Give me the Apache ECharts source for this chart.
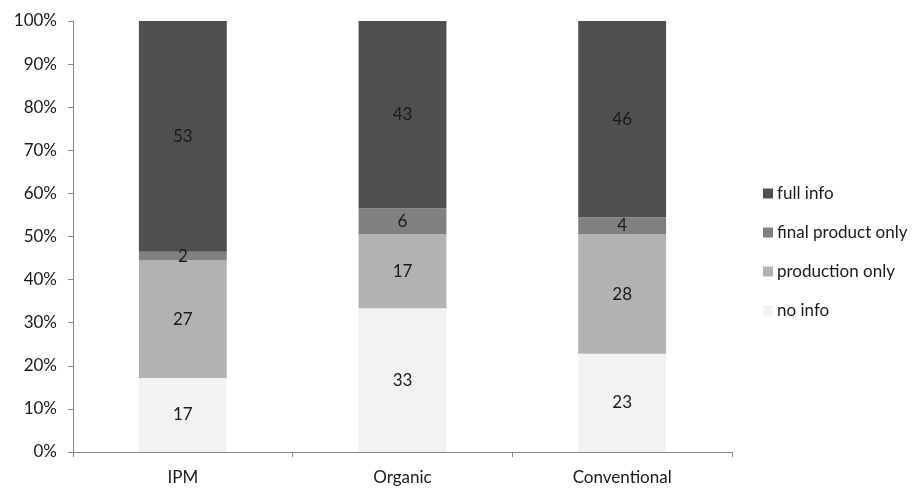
<!DOCTYPE html>
<html>
<head>
<meta charset="utf-8">
<script src="https://cdn.jsdelivr.net/npm/echarts@6/dist/echarts.min.js"></script>
<style>
  html, body { margin: 0; padding: 0; background: #fff; }
  #chart { width: 917px; height: 490px; }
</style>
</head>
<body>
<div id="chart"></div>
<script>
// Farming systems and number of responses per information level
const categories = ['IPM', 'Organic', 'Conventional'];
const noInfo = [17, 33, 23];
const productionOnly = [27, 17, 28];
const finalProductOnly = [2, 6, 4];
const fullInfo = [53, 43, 46];
const yTickLabels = ['0%', '10%', '20%', '30%', '40%', '50%', '60%', '70%', '80%', '90%', '100%'];

const seriesDefs = [
  { name: 'no info', values: noInfo, color: '#f2f2f2' },
  { name: 'production only', values: productionOnly, color: '#b2b2b2' },
  { name: 'final product only', values: finalProductOnly, color: '#808080' },
  { name: 'full info', values: fullInfo, color: '#4f4f4f' }
];

// Column totals, used to scale each stack to 100%
const totals = categories.map((_, i) => seriesDefs.reduce((s, d) => s + d.values[i], 0));

const font = 'Lato, "Open Sans", sans-serif';
const textColor = '#1a1a1a';

const chart = echarts.init(document.getElementById('chart'), null, { renderer: 'canvas' });
chart.setOption({
  animation: false,
  backgroundColor: '#ffffff',
  grid: { left: 73, right: 185, top: 21, bottom: 38, containLabel: false },
  legend: {
    orient: 'vertical',
    left: 763,
    top: 185,
    padding: 0,
    itemWidth: 10,
    itemHeight: 10,
    itemGap: 22,
    icon: 'rect',
    data: ['full info', 'final product only', 'production only', 'no info'],
    textStyle: { fontFamily: font, fontSize: 17, lineHeight: 17, color: textColor, padding: [0, 0, 0, -1] }
  },
  xAxis: {
    type: 'category',
    data: categories,
    axisLine: { lineStyle: { color: '#868686', width: 1 } },
    axisTick: { show: true, length: 5, alignWithLabel: false, lineStyle: { color: '#868686' } },
    axisLabel: { fontFamily: font, fontSize: 17, color: textColor, margin: 17 }
  },
  yAxis: {
    type: 'value',
    min: 0,
    max: 100,
    interval: 10,
    axisLine: { show: true, lineStyle: { color: '#868686', width: 1 } },
    axisTick: { show: true, length: 5, lineStyle: { color: '#868686' } },
    splitLine: { show: false },
    axisLabel: {
      fontFamily: font, fontSize: 17, color: textColor, margin: 16,
      formatter: v => yTickLabels[Math.round(v / 10)]
    }
  },
  series: seriesDefs.map(d => ({
    name: d.name,
    type: 'bar',
    stack: 'share',
    barWidth: '40%',
    itemStyle: { color: d.color },
    label: {
      show: true,
      position: 'inside',
      fontFamily: font,
      fontSize: 17,
      color: textColor,
      formatter: p => String(d.values[p.dataIndex])
    },
    data: d.values.map((v, i) => v / totals[i] * 100)
  }))
});
</script>
</body>
</html>
